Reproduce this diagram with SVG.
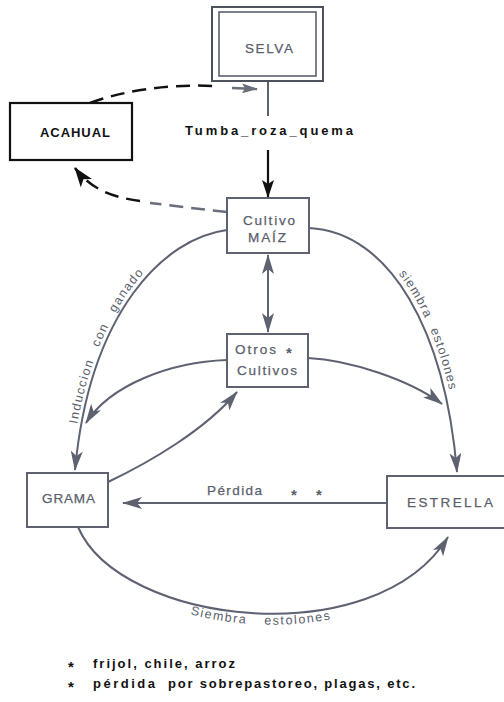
<svg xmlns="http://www.w3.org/2000/svg" xmlns:xlink="http://www.w3.org/1999/xlink" width="504" height="702" viewBox="0 0 504 702">
<style>
  .box { fill: #fff; stroke: #5d6170; stroke-width: 2; }
  .bbox { fill: #fff; stroke: #111; stroke-width: 2.2; }
  .con { fill: none; stroke: #5d6170; stroke-width: 2; }
  .dash { fill: none; stroke: #111; stroke-width: 2.5; stroke-dasharray: 14 8; }
  .dashg { fill: none; stroke: #6a6e7a; stroke-width: 2.5; stroke-dasharray: 14 8; }
  .lbl { font-family: "Liberation Sans", Arial, sans-serif; font-size: 13.5px; fill: #5a5e6b; stroke: #5a5e6b; stroke-width: 0.25; }
  .blk { font-family: "Liberation Sans", Arial, sans-serif; font-size: 13px; font-weight: bold; fill: #111; }
  .cl { font-family: "Liberation Sans", Arial, sans-serif; font-size: 12.5px; fill: #5a5e6b; }
  .ast { font-family: "Liberation Sans", Arial, sans-serif; font-size: 15px; font-weight: bold; }
</style>
<defs>
  <marker id="ag" markerUnits="userSpaceOnUse" markerWidth="20" markerHeight="12" viewBox="0 0 20 12" refX="19" refY="6" orient="auto-start-reverse">
    <path d="M0,0 L20,6 L0,12 L5,6 z" fill="#5d6170"/>
  </marker>
  <marker id="ab" markerUnits="userSpaceOnUse" markerWidth="18" markerHeight="12" viewBox="0 0 18 12" refX="17" refY="6" orient="auto">
    <path d="M0,0 L18,6 L0,12 L4,6 z" fill="#111"/>
  </marker>
  <marker id="ab2" markerUnits="userSpaceOnUse" markerWidth="20" markerHeight="14" viewBox="0 0 20 14" refX="19" refY="7" orient="auto">
    <path d="M0,0 L20,7 L0,14 L5,7 z" fill="#111"/>
  </marker>
  <marker id="ag2" markerUnits="userSpaceOnUse" markerWidth="16" markerHeight="10" viewBox="0 0 16 10" refX="15" refY="5" orient="auto">
    <path d="M0,0 L16,5 L0,10 L3,5 z" fill="#6a6e7a"/>
  </marker>
  <path id="tpInd" d="M71,470 C86,306 163,234 226,226"/>
  <path id="tpSie" d="M314,225 C394,229 450,328 462,472"/>
  <path id="tpBot" d="M78,538 C120,636 375,666 448,548"/>
</defs>

<g id="connectors">
  <line x1="268" y1="81" x2="268" y2="116" class="con"/>
  <line x1="268" y1="150" x2="268" y2="197" stroke="#111" stroke-width="2.2" marker-end="url(#ab)"/>
  <path d="M90,103 C125,90 170,84 215,86" class="dash"/>
  <path d="M232,88 L257,89" fill="none" stroke="#6a6e7a" stroke-width="2.5" marker-end="url(#ag2)"/>
  <path d="M227,212 C200,209 175,206 150,203" class="dashg"/>
  <path d="M140,201 C110,197 90,188 75,168" class="dash" marker-end="url(#ab2)"/>
  <line x1="268" y1="255" x2="268" y2="332" class="con" marker-start="url(#ag)" marker-end="url(#ag)"/>
  <path d="M227,230 C165,238 90,310 75,470" class="con" marker-end="url(#ag)"/>
  <path d="M309,228 C390,232 445,330 457,472" class="con" marker-end="url(#ag)"/>
  <path d="M227,360 C170,362 110,385 86,423" class="con" marker-end="url(#ag)"/>
  <path d="M108,482 C150,462 205,430 237,392" class="con" marker-end="url(#ag)"/>
  <path d="M308,358 C350,360 410,380 442,404" class="con" marker-end="url(#ag)"/>
  <line x1="387" y1="503" x2="123" y2="503" class="con" marker-end="url(#ag)"/>
  <path d="M78,527 C120,625 375,655 448,537" class="con" marker-end="url(#ag)"/>

  <text class="blk" x="185" y="135" textLength="168" lengthAdjust="spacing">Tumba_roza_quema</text>
  <text class="cl" letter-spacing="1.4" word-spacing="9" text-anchor="middle"><textPath href="#tpInd" xlink:href="#tpInd" startOffset="42%">Induccion con ganado</textPath></text>
  <text class="cl" letter-spacing="1.2" word-spacing="7" text-anchor="middle"><textPath href="#tpSie" xlink:href="#tpSie" startOffset="53%">siembra estolones</textPath></text>
  <text class="cl" letter-spacing="1.6" word-spacing="12" text-anchor="middle"><textPath href="#tpBot" xlink:href="#tpBot" startOffset="50%">Siembra estolones</textPath></text>
  <text class="lbl" x="207" y="495" textLength="55" lengthAdjust="spacing">Pérdida</text>
  <text class="ast" x="291" y="500" fill="#5a5e6b">*</text>
  <text class="ast" x="316" y="500" fill="#5a5e6b">*</text>
</g>

<g id="selva">
  <rect x="212" y="7" width="111" height="74" fill="#fff" stroke="#4d515c" stroke-width="2"/>
  <rect x="219" y="12" width="97" height="64" fill="#fff" stroke="#5d6170" stroke-width="1.6"/>
  <text class="lbl" x="245" y="53" textLength="48" lengthAdjust="spacing">SELVA</text>
</g>

<g id="acahual">
  <rect x="10" y="103" width="122" height="57" class="bbox"/>
  <text class="blk" x="40" y="137" font-size="13.5" textLength="70" lengthAdjust="spacing">ACAHUAL</text>
</g>

<g id="cultivo-maiz">
  <rect x="227" y="198" width="82" height="55" class="box"/>
  <text class="lbl" x="243" y="225" textLength="52" lengthAdjust="spacing">Cultivo</text>
  <text class="lbl" x="248" y="242" textLength="38" lengthAdjust="spacing">MAÍZ</text>
</g>

<g id="otros-cultivos">
  <rect x="227" y="334" width="81" height="53" class="box"/>
  <text class="lbl" x="235" y="354" textLength="41" lengthAdjust="spacing">Otros</text>
  <text class="ast" x="286" y="358" fill="#5a5e6b">*</text>
  <text class="lbl" x="237" y="375" textLength="60" lengthAdjust="spacing">Cultivos</text>
</g>

<g id="grama">
  <rect x="27" y="473" width="81" height="54" class="box"/>
  <text class="lbl" x="42" y="503" textLength="53" lengthAdjust="spacing">GRAMA</text>
</g>

<g id="estrella">
  <rect x="387" y="476" width="122" height="52" class="box"/>
  <text class="lbl" x="407" y="507" textLength="86" lengthAdjust="spacing">ESTRELLA</text>
</g>

<g id="notes">
  <text class="ast" x="68" y="672" fill="#111">*</text>
  <text class="blk" x="93" y="668" textLength="142" lengthAdjust="spacing">frijol, chile, arroz</text>
  <text class="ast" x="68" y="692" fill="#111">*</text>
  <text class="blk" x="93" y="688" textLength="62" lengthAdjust="spacing">pérdida</text>
  <text class="blk" x="168" y="688" textLength="247" lengthAdjust="spacing">por sobrepastoreo, plagas, etc.</text>
</g>
</svg>
